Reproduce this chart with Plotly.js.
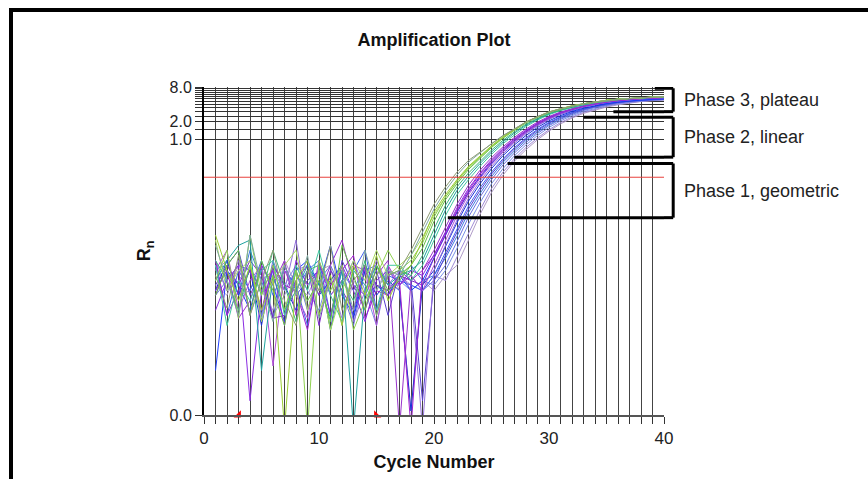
<!DOCTYPE html>
<html><head><meta charset="utf-8">
<script src="https://cdn.plot.ly/plotly-3.0.1.min.js"></script>
<style>
html,body{margin:0;padding:0;background:#fff;overflow:hidden;}
#chart{position:absolute;left:0;top:0;width:868px;height:479px;}
#frame{position:absolute;left:9px;top:8px;width:880px;height:490px;border-left:4px solid #000;border-top:4px solid #000;pointer-events:none;}
</style></head><body>
<div id="chart"></div><div id="frame"></div>
<script>
// ---- data ----
const cycles = [1,2,3,4,5,6,7,8,9,10,11,12,13,14,15,16,17,18,19,20,21,22,23,24,25,26,27,28,29,30,31,32,33,34,35,36,37,38,39,40];

const wellA1 = [0.0044,0.0012,0.0098,0.0009,0.0036,0.012,0.0016,0.0006,0.0054,0.0024,0.0146,0.0011,0.0036,0.0066,0.0009,0.0044, 0.0054,0.012,0.03,0.075,0.15,0.27,0.43,0.60,0.85,1.15,1.50,1.98,2.45,2.95,3.35,3.75,4.10,4.40,4.65,4.88,5.05,5.20,5.32,5.42];
const wellA2 = [0.0146,0.0036,0.0009,0.022,0.003,0.0007,0.0066,0.002,0.0098,0.0008,0.0036,0.0054,0.0011,0.012,0.0024,0.0054, 0.0044,0.0098,0.024,0.062,0.13,0.24,0.40,0.58,0.84,1.16,1.52,1.98,2.46,2.95,3.36,3.76,4.10,4.42,4.68,4.90,5.08,5.22,5.34,5.44];
const wellA3 = [0.022,0.0054,0.0016,0.0066,0.0011,0.0044,0.00001,0.0036,0.008,0.0009,0.0044,0.0006,0.0066,0.002,0.0098,0.0016, 0.0044,0.0066,0.018,0.055,0.11,0.20,0.34,0.51,0.77,1.10,1.51,2.00,2.44,2.98,3.36,3.79,4.10,4.44,4.72,4.91,5.11,5.21,5.32,5.43];
const wellA4 = [0.0036,0.012,0.0008,0.022,0.002,0.0066,0.0011,0.0054,0.00001,0.008,0.0024,0.0066,0.0005,0.0016,0.0044,0.012, 0.0054,0.008,0.016,0.045,0.10,0.185,0.32,0.49,0.74,1.06,1.46,1.95,2.42,2.92,3.34,3.76,4.10,4.44,4.72,4.93,5.12,5.24,5.36,5.46];
const wellA5 = [0.002,0.0066,0.012,0.0009,0.008,0.0024,0.0006,0.0054,0.0016,0.0036,0.0007,0.0146,0.0044,0.0011,0.0066,0.0024, 0.0036,0.0066,0.013,0.038,0.09,0.17,0.30,0.47,0.72,1.04,1.44,1.92,2.40,2.90,3.32,3.74,4.08,4.42,4.70,4.92,5.10,5.22,5.34,5.44];
const wellA6 = [0.018,0.0024,0.0054,0.008,0.0007,0.0036,0.0066,0.012,0.0011,0.0054,0.0005,0.0024,0.008,0.0036,0.012,0.0044, 0.0066,0.0098,0.02,0.05,0.10,0.19,0.33,0.50,0.75,1.08,1.48,1.97,2.44,2.95,3.36,3.78,4.12,4.45,4.73,4.94,5.12,5.24,5.35,5.45];
const wellB1 = [0.008,0.0036,0.0011,0.0066,0.002,0.012,0.003,0.0007,0.0054,0.0066,0.0005,0.0036,0.0016,0.008,0.0009,0.0044, 0.0054,0.0044,0.0098,0.028,0.072,0.15,0.26,0.42,0.65,0.96,1.35,1.82,2.30,2.80,3.25,3.66,4.02,4.35,4.64,4.88,5.06,5.20,5.32,5.42];
const wellB2 = [0.0036,0.008,0.0146,0.018,0.0001,0.0044,0.0011,0.0024,0.0066,0.003,0.0008,0.0054,0.00001,0.0024,0.0066,0.003, 0.0044,0.0054,0.008,0.022,0.06,0.13,0.23,0.38,0.60,0.90,1.28,1.75,2.24,2.74,3.20,3.62,3.98,4.32,4.62,4.86,5.04,5.18,5.30,5.40];
const wellB3 = [0.0066,0.0006,0.0036,0.0016,0.0054,0.008,0.0009,0.0066,0.0024,0.012,0.002,0.0007,0.0054,0.003,0.0011,0.0066, 0.0066,0.0036,0.0066,0.018,0.048,0.11,0.20,0.34,0.55,0.84,1.20,1.66,2.15,2.66,3.12,3.55,3.93,4.28,4.58,4.82,5.02,5.16,5.28,5.38];
const wellB4 = [0.0024,0.0054,0.0008,0.0016,0.0066,0.003,0.008,0.0009,0.0054,0.002,0.0066,0.018,0.003,0.0011,0.0044,0.008, 0.00001,0.0036,0.0054,0.012,0.03,0.075,0.16,0.29,0.48,0.74,1.08,1.50,1.98,2.48,2.96,3.40,3.80,4.15,4.46,4.72,4.93,5.08,5.20,5.30];
const wellB5 = [0.0011,0.0036,0.0066,0.00003,0.0024,0.0054,0.0006,0.008,0.003,0.0054,0.0009,0.0066,0.0024,0.0007,0.0036,0.0054, 0.003,0.0054,0.0044,0.01,0.025,0.065,0.14,0.26,0.44,0.69,1.02,1.42,1.90,2.40,2.88,3.34,3.75,4.10,4.42,4.68,4.90,5.06,5.18,5.28];
const wellB6 = [0.008,0.0009,0.0024,0.0054,0.0011,0.0066,0.003,0.0024,0.0005,0.0066,0.003,0.0054,0.0098,0.0008,0.0024,0.002, 0.0036,0.00001,0.0054,0.0098,0.024,0.06,0.13,0.25,0.42,0.67,1.00,1.40,1.88,2.38,2.87,3.33,3.74,4.10,4.42,4.68,4.90,5.06,5.18,5.28];
const wellC1 = [0.002,0.0066,0.003,0.008,0.0044,0.0008,0.0009,0.0036,0.0066,0.0006,0.0054,0.0024,0.0011,0.0066,0.003,0.0024, 0.0044,0.0036,0.003,0.0088,0.022,0.056,0.12,0.23,0.40,0.64,0.96,1.36,1.84,2.34,2.84,3.30,3.72,4.08,4.40,4.66,4.88,5.04,5.16,5.26];
const wellC2 = [0.0054,0.012,0.0011,0.0036,0.0066,0.00012,0.0054,0.002,0.0008,0.008,0.002,0.0036,0.0066,0.0054,0.0006,0.0066, 0.003,0.0044,0.0024,0.0066,0.018,0.048,0.11,0.21,0.37,0.60,0.91,1.30,1.78,2.28,2.78,3.25,3.68,4.05,4.38,4.64,4.86,5.02,5.14,5.24];
const wellC3 = [0.0066,0.0024,0.008,0.0009,0.0036,0.0054,0.0024,0.018,0.0011,0.0054,0.003,0.0066,0.0007,0.0024,0.008,0.003, 0.0054,0.0024,0.00001,0.0054,0.015,0.04,0.095,0.19,0.34,0.56,0.86,1.24,1.70,2.20,2.70,3.18,3.62,4.00,4.34,4.60,4.82,4.98,5.10,5.20];
const wellC4 = [0.0001,0.0054,0.003,0.0011,0.0066,0.003,0.0007,0.0054,0.008,0.003,0.0146,0.002,0.0009,0.0066,0.003,0.002, 0.0044,0.0024,0.0036,0.0088,0.021,0.054,0.12,0.22,0.38,0.61,0.92,1.30,1.76,2.24,2.72,3.16,3.56,3.92,4.22,4.46,4.66,4.82,4.94,5.04];
const wellC5 = [0.0024,0.008,0.002,0.0054,0.0006,0.0066,0.003,0.0011,0.0054,0.002,0.0036,0.0066,0.0008,0.0054,0.002,0.0036, 0.0024,0.00002,0.003,0.0054,0.014,0.036,0.085,0.17,0.31,0.52,0.80,1.16,1.60,2.08,2.56,3.02,3.44,3.80,4.12,4.38,4.60,4.76,4.90,5.00];
const wellC6 = [0.0066,0.0009,0.0054,0.0024,0.008,0.002,0.0054,0.003,0.0006,0.0066,0.002,0.0036,0.0054,0.012,0.0011,0.0044, 0.0036,0.003,0.0024,0.0044,0.011,0.028,0.07,0.145,0.27,0.46,0.72,1.06,1.48,1.96,2.44,2.90,3.34,3.72,4.06,4.34,4.56,4.72,4.86,4.96];
const wellD1 = [0.003,0.0066,0.012,0.002,0.0054,0.0008,0.0066,0.002,0.0036,0.0054,0.0005,0.008,0.003,0.002,0.0054,0.0009, 0.0054,0.0036,0.00003,0.0036,0.0098,0.024,0.062,0.13,0.25,0.43,0.68,1.01,1.42,1.90,2.38,2.85,3.30,3.70,4.04,4.32,4.56,4.74,4.88,4.98];
const wellD2 = [0.002,0.0036,0.0066,0.0054,0.0009,0.008,0.0024,0.0054,0.0011,0.0036,0.0066,0.0024,0.0006,0.0054,0.0066,0.003, 0.003,0.0044,0.0024,0.0036,0.0066,0.017,0.045,0.10,0.20,0.36,0.58,0.88,1.26,1.72,2.20,2.68,3.14,3.56,3.92,4.22,4.46,4.64,4.78,4.88];
const wellD3 = [0.008,0.0024,0.0036,0.0066,0.0008,0.0054,0.003,0.0066,0.0024,0.0011,0.0054,0.003,0.008,0.0024,0.0006,0.0054, 0.0036,0.0024,0.0036,0.003,0.0054,0.013,0.034,0.08,0.17,0.31,0.52,0.80,1.16,1.60,2.08,2.56,3.02,3.44,3.80,4.12,4.38,4.58,4.72,4.82];
const wellD4 = [0.0054,0.008,0.002,0.0024,0.0066,0.0009,0.002,0.0054,0.0066,0.0024,0.0036,0.0008,0.0054,0.003,0.0066,0.002, 0.0044,0.003,0.0024,0.0044,0.0036,0.009,0.024,0.06,0.14,0.27,0.46,0.72,1.05,1.46,1.94,2.42,2.90,3.32,3.70,4.02,4.30,4.52,4.68,4.80];
const wellD5 = [0.003,0.002,0.0066,0.0054,0.0024,0.0011,0.008,0.003,0.002,0.0054,0.0066,0.0006,0.0036,0.002,0.0024,0.0066, 0.0024,0.00002,0.0036,0.0024,0.0044,0.0066,0.018,0.05,0.12,0.24,0.42,0.66,0.98,1.38,1.84,2.32,2.80,3.22,3.60,3.94,4.24,4.48,4.64,4.78];
const wellD6 = [0.0024,0.0054,0.002,0.012,0.0036,0.0008,0.0066,0.0024,0.0054,0.008,0.0009,0.0054,0.0024,0.0066,0.003,0.002, 0.0044,0.0066,0.0036,0.0044,0.0088,0.021,0.054,0.115,0.225,0.40,0.63,0.95,1.34,1.80,2.28,2.76,3.22,3.62,3.98,4.28,4.52,4.70,4.84,4.94];

const wellNames = ['A1','A2','A3','A4','A5','A6','B1','B2','B3','B4','B5','B6','C1','C2','C3','C4','C5','C6','D1','D2','D3','D4','D5','D6'];
const wellData = [wellA1,wellA2,wellA3,wellA4,wellA5,wellA6,wellB1,wellB2,wellB3,wellB4,wellB5,wellB6,wellC1,wellC2,wellC3,wellC4,wellC5,wellC6,wellD1,wellD2,wellD3,wellD4,wellD5,wellD6];
const wellColors = ['#8f9c74','#7fa8a0','#9acd32','#8fd14f','#66bf45','#a8d860','#3cb878','#1fa3a0','#40c8a0','#9932cc','#8a2be2','#a020d0','#7b28c8','#b050d8','#9370db','#2040ff','#1830d8','#4060f0','#5a3fd0','#6a70e0','#7a90e8','#a08ad8','#b09cc8','#3d7be0'];

const threshold = 0.22;
const baselineStartEnd = [3, 15];

const rnFloor = 1.7e-5;
const rnTop = 8;
const rnTickVals = [rnFloor,1,1.5,2,2.5,3,3.5,4,4.5,5,5.5,6,6.5,7,7.5,8];
const rnTickText = ['0.0','1.0',' ','2.0',' ',' ',' ',' ',' ',' ',' ',' ',' ',' ',' ','8.0'];

const phaseNames = ['Phase 3, plateau','Phase 2, linear','Phase 1, geometric'];
const phaseUpper = [7.6, 2.4, 0.38];
const phaseLower = [3.0, 0.49, 0.044];
const phaseUpperFrom = [39.2, 33, 26.4];
const phaseLowerFrom = [35.6, 27, 21.2];

// ---- build ----
const FONT = '"Liberation Sans", Arial, Helvetica, sans-serif';
const traces = [];
for (let i = wellData.length - 1; i >= 0; i--) {
  traces.push({x: cycles, y: wellData[i], name: wellNames[i], type: 'scatter', mode: 'lines',
    line: {color: wellColors[i], width: 1}, hoverinfo: 'skip'});
}
traces.push({x: [0, 40], y: [threshold, threshold], type: 'scatter', mode: 'lines',
  line: {color: '#e8413c', width: 1}, hoverinfo: 'skip'});
traces.push({x: baselineStartEnd, y: [rnFloor, rnFloor], type: 'scatter', mode: 'markers', cliponaxis: false,
  marker: {symbol: ['triangle-se', 'triangle-sw'], size: 8, color: '#ff0000'}, hoverinfo: 'skip'});

const BAR = 1.02;
const shapes = [];
const annotations = [];
const L = {color: '#000', width: 3};
for (let i = 0; i < phaseNames.length; i++) {
  shapes.push({type: 'line', xref: 'x', yref: 'y', x0: phaseUpperFrom[i], x1: 40, y0: phaseUpper[i], y1: phaseUpper[i], line: L});
  shapes.push({type: 'line', xref: 'x', yref: 'y', x0: phaseLowerFrom[i], x1: 40, y0: phaseLower[i], y1: phaseLower[i], line: L});
  shapes.push({type: 'line', xref: 'x domain', yref: 'y', x0: 1, x1: BAR, y0: phaseUpper[i], y1: phaseUpper[i], line: L});
  shapes.push({type: 'line', xref: 'x domain', yref: 'y', x0: 1, x1: BAR, y0: phaseLower[i], y1: phaseLower[i], line: L});
  shapes.push({type: 'line', xref: 'x domain', yref: 'y', x0: BAR, x1: BAR, y0: phaseUpper[i], y1: phaseLower[i], line: L});
  annotations.push({xref: 'x domain', yref: 'y', x: 1.04, xanchor: 'left', yanchor: 'middle',
    y: (Math.log10(phaseUpper[i]) + Math.log10(phaseLower[i])) / 2,
    text: phaseNames[i], showarrow: false, font: {family: FONT, size: 18, color: '#222'}});
}

const layout = {
  width: 868, height: 479,
  margin: {l: 204, r: 204, t: 87, b: 64},
  paper_bgcolor: 'rgba(0,0,0,0)', plot_bgcolor: 'rgba(0,0,0,0)',
  showlegend: false,
  font: {family: FONT, size: 18, color: '#222'},
  title: {text: '<b>Amplification Plot</b>', font: {family: FONT, size: 18, color: '#111'},
    x: 0.5, xref: 'paper', xanchor: 'center', y: 1 - 40 / 479, yref: 'container', yanchor: 'middle'},
  xaxis: {
    range: [0, 40], tickmode: 'linear', tick0: 0, dtick: 10,
    ticks: 'outside', ticklen: 7, tickcolor: '#333', tickwidth: 1,
    showgrid: true, gridcolor: '#444', gridwidth: 1,
    minor: {tickmode: 'linear', tick0: 0, dtick: 1, ticks: 'outside', ticklen: 7, tickcolor: '#333', tickwidth: 1,
      showgrid: true, gridcolor: '#444', gridwidth: 1},
    showline: true, linecolor: '#555', linewidth: 2, zeroline: false,
    tickfont: {family: FONT, size: 17, color: '#222'},
    title: {text: '<b>Cycle Number</b>', font: {family: FONT, size: 18, color: '#111'}, standoff: 8}
  },
  yaxis: {
    type: 'log', range: [Math.log10(rnFloor), Math.log10(rnTop)],
    tickmode: 'array', tickvals: rnTickVals, ticktext: rnTickText,
    ticks: 'outside', ticklen: 7, tickcolor: '#333', tickwidth: 1,
    showgrid: true, gridcolor: '#333', gridwidth: 1,
    showline: true, linecolor: '#000', linewidth: 2, zeroline: false,
    tickfont: {family: FONT, size: 16, color: '#222'},
    title: {text: '<b>R<sub>n</sub></b>', font: {family: FONT, size: 18, color: '#111'}, standoff: 14}
  },
  shapes: shapes,
  annotations: annotations
};

Plotly.newPlot('chart', traces, layout, {staticPlot: true, displayModeBar: false});
</script>
</body></html>
